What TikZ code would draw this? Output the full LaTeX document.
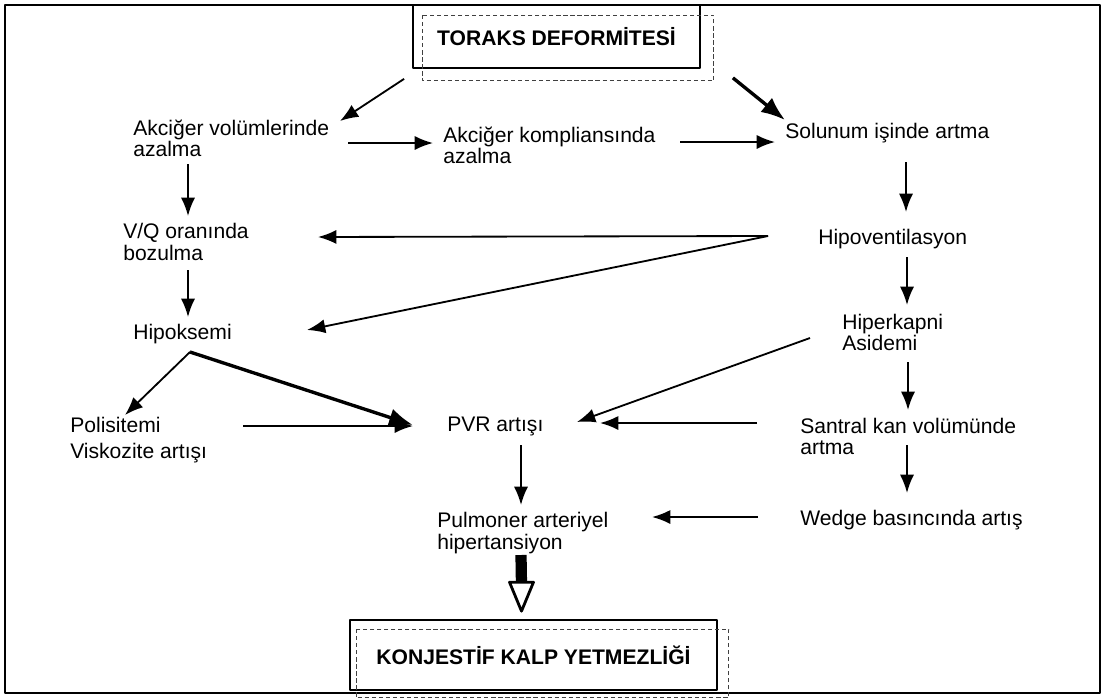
\documentclass[tikz,border=0pt]{standalone}
\usepackage{fontspec}
\setmainfont{Liberation Sans}
\usetikzlibrary{arrows.meta}

\tikzset{
  metin/.style={anchor=west, inner sep=0pt, align=left, font=\fontsize{15}{15}\selectfont},
  baslik/.style={draw, line width=1.2pt, inner sep=0pt, font=\bfseries\fontsize{15}{17}\selectfont},
  kesik/.style={densely dashed, line width=0.6pt, black!75},
  ok/.style={line width=1.3pt, -{Latex[length=13pt,width=10pt]}},
  kalinok/.style={line width=2.4pt, -{Latex[length=17pt,width=13pt]}},
}

\begin{document}
\begin{tikzpicture}[x=0.025cm, y=-0.025cm, line join=round]
  \useasboundingbox (0,0) rectangle (1105,698);
  % 外枠
  \draw[line width=1pt] (5,5) rectangle (1100,693);

  % 上の見出し
  \node[baslik, minimum width=7.175cm, minimum height=1.575cm] (toraks) at (556.5,36.5) {TORAKS DEFORMİTESİ};
  \draw[kesik] ([shift={(10,11)}]toraks.north west) rectangle ([shift={(13,12)}]toraks.south east);

  % 左の列
  \node[metin] (akcvol) at (133,138) {Akciğer volümlerinde\\azalma};
  \node[metin] (vq) at (123,242) {V/Q oranında\\bozulma};
  \node[metin] (hipoks) at (133,334) {Hipoksemi};
  \node[metin] (polis) at (70,440) {Polisitemi\\[3pt]Viskozite artışı};

  % 中央の列
  \node[metin] (akckomp) at (443,145) {Akciğer kompliansında\\azalma};
  \node[metin] (pvr) at (447,426) {PVR artışı};
  \node[metin] (pulm) at (437,533) {Pulmoner arteriyel\\hipertansiyon};

  % 右の列
  \node[metin] (solunum) at (785,133) {Solunum işinde artma};
  \node[metin] (hipovent) at (818,239) {Hipoventilasyon};
  \node[metin] (hiperk) at (842,332) {Hiperkapni\\Asidemi};
  \node[metin] (santral) at (800,436) {Santral kan volümünde\\artma};
  \node[metin] (wedge) at (800,520) {Wedge basıncında artış};

  % 下の見出し
  \node[baslik, minimum width=9.175cm, minimum height=1.75cm] (konj) at (533.5,655) {KONJESTİF KALP YETMEZLİĞİ};
  \draw[kesik] ([shift={(7,10)}]konj.north west) rectangle ([shift={(11,7)}]konj.south east);

  % 分岐点
  \coordinate (hv) at ([shift={(-50,-3)}]hipovent.west);
  \coordinate (hk) at ([shift={(57,18)}]hipoks.west);

  % 矢印（上段）
  \draw[ok] ([shift={(-8,10)}]toraks.south west) -- ([shift={(207,-17)}]akcvol.west);
  \draw[kalinok] ([shift={(32,9)}]toraks.south east) -- ([shift={(0,-13)}]solunum.west);
  \draw[ok] ([shift={(215,5)}]akcvol.west) -- ([shift={(-10,-2)}]akckomp.west);
  \draw[ok] ([shift={(237,-3)}]akckomp.west) -- ([shift={(-10,9)}]solunum.west);

  % 矢印（左の列）
  \draw[ok] ([shift={(55,26)}]akcvol.west) -- ([shift={(65,-26)}]vq.west);
  \draw[ok] ([shift={(65,28)}]vq.west) -- ([shift={(55,-17)}]hipoks.west);
  \draw[ok] (hk) -- ([shift={(55,-25)}]polis.west);
  \draw[kalinok] (hk) -- ([shift={(-34,-1)}]pvr.west);
  \draw[ok] ([shift={(173,-14)}]polis.west) -- ([shift={(-34,0)}]pvr.west);

  % 矢印（右の列）
  \draw[ok] ([shift={(121,29)}]solunum.west) -- ([shift={(88,-27)}]hipovent.west);
  \draw[ok] (hv) -- ([shift={(195,-5)}]vq.west);
  \draw[ok] (hv) -- ([shift={(174,-4)}]hipoks.west);
  \draw[ok] ([shift={(89,18)}]hipovent.west) -- ([shift={(65,-27)}]hiperk.west);
  \draw[ok] ([shift={(-32,6)}]hiperk.west) -- ([shift={(130,-4)}]pvr.west);
  \draw[ok] ([shift={(66,30)}]hiperk.west) -- ([shift={(108,-26)}]santral.west);
  \draw[ok] ([shift={(-43,-13)}]santral.west) -- ([shift={(153,-3)}]pvr.west);
  \draw[ok] ([shift={(107,9)}]santral.west) -- ([shift={(107,-27)}]wedge.west);

  % 矢印（下段）
  \draw[ok] ([shift={(74,19)}]pvr.west) -- ([shift={(84,-28)}]pulm.west);
  \draw[ok] ([shift={(-42,-3)}]wedge.west) -- ([shift={(215,-16)}]pulm.west);

  % 太い白抜き矢印
  \coordinate (ucbas) at ([shift={(-12,-37)}]konj.north);
  \draw[line width=8pt] ([shift={(84,22)}]pulm.west) -- ([shift={(0,3)}]ucbas);
  \draw[line width=2pt, fill=white] ([shift={(-12,0)}]ucbas) -- ([shift={(12,0)}]ucbas) -- ([shift={(-12,-8)}]konj.north) -- cycle;
\end{tikzpicture}
\end{document}
